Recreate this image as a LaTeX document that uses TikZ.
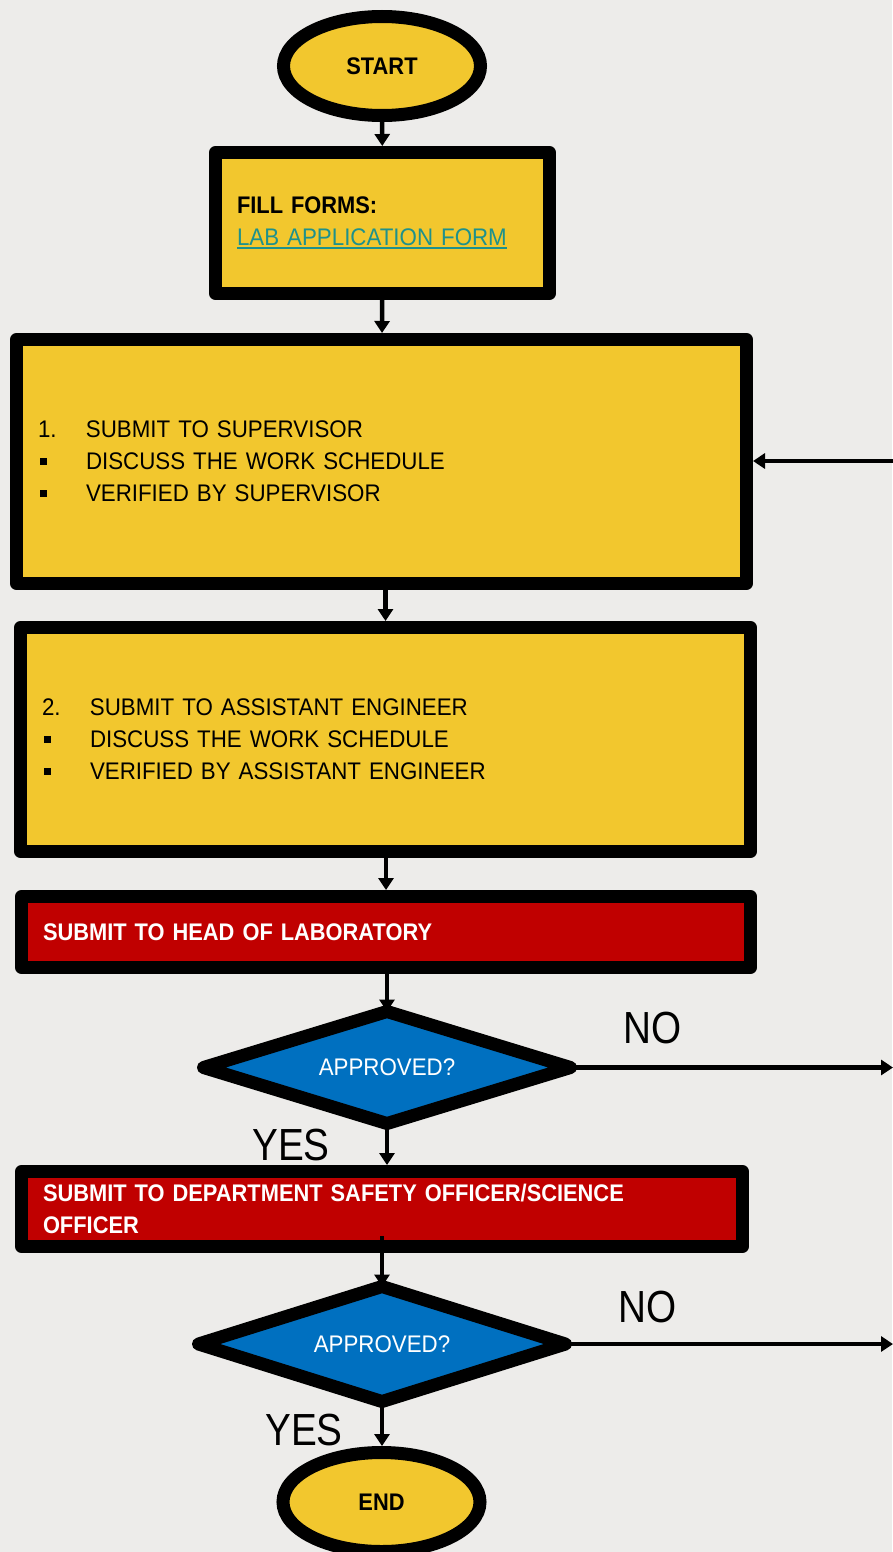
\documentclass[tikz,border=0pt]{standalone}
\usepackage{fontspec}
\setmainfont{Liberation Sans}[FakeStretch=0.93,BoldFeatures={FakeStretch=0.91}]
\newfontfamily\answerfont{Liberation Sans}[FakeStretch=0.86]
\usetikzlibrary{shapes.geometric,arrows.meta}
\definecolor{pagebg}{HTML}{EDECEA}
\definecolor{flowyellow}{HTML}{F2C72E}
\definecolor{flowred}{HTML}{C00000}
\definecolor{flowblue}{HTML}{0070C0}
\definecolor{linkteal}{HTML}{1E918C}
\newcommand{\sqbullet}{\rule[5pt]{7pt}{7pt}}
\newcommand{\itemrow}[2]{\makebox[48pt][l]{#1}#2}
\newcommand{\formlink}[1]{\textcolor{linkteal}{\setbox0\hbox{#1}\rlap{\rule[-3pt]{\wd0}{1.8pt}}\box0}}

\begin{document}
\begin{tikzpicture}[x=1pt, y=-1pt,
  every node/.style={font=\fontsize{24}{32}\selectfont},
  >={Triangle[length=12pt,width=15pt]},
  terminal/.style={ellipse, draw, line width=13pt, fill=flowyellow, inner sep=0pt,
    minimum width=197pt, minimum height=99pt, font=\fontsize{24}{32}\selectfont\bfseries},
  stepbox/.style={rectangle, draw, line width=13pt, line join=round, fill=flowyellow,
    inner xsep=21.5pt, align=left},
  redbox/.style={stepbox, fill=flowred, text=white, font=\fontsize{24}{32}\selectfont\bfseries},
  decision/.style={diamond, draw, line width=13pt, line join=round, fill=flowblue, text=white,
    inner sep=0pt, outer sep=0pt, aspect=3.3, minimum width=367pt, minimum height=112pt},
  answer/.style={font=\fontsize{45}{45}\answerfont},
  flow/.style={->, line width=4.5pt}]
\useasboundingbox (0,0) rectangle (892,1552);
\fill[pagebg] (0,0) rectangle (892,1552);

% main column
\node[terminal] (start) at (382,66) {START};
\node[stepbox, text width=291pt, minimum height=141pt] (forms) at (382.5,223)
  {\textbf{FILL FORMS:}\\\formlink{LAB APPLICATION FORM}};
\node[stepbox, text width=687pt, minimum height=244pt] (supervisor) at (381.5,461.5)
  {\itemrow{1.}{SUBMIT TO SUPERVISOR}\\
   \itemrow{\hspace{2pt}\sqbullet}{DISCUSS THE WORK SCHEDULE}\\
   \itemrow{\hspace{2pt}\sqbullet}{VERIFIED BY SUPERVISOR}};
\node[stepbox, text width=687pt, minimum height=224pt] (engineer) at (385.5,739.5)
  {\itemrow{2.}{SUBMIT TO ASSISTANT ENGINEER}\\
   \itemrow{\hspace{2pt}\sqbullet}{DISCUSS THE WORK SCHEDULE}\\
   \itemrow{\hspace{2pt}\sqbullet}{VERIFIED BY ASSISTANT ENGINEER}};
\node[redbox, text width=686pt, minimum height=71pt] (head) at (386,932)
  {SUBMIT TO HEAD OF LABORATORY};
\node[decision] (check1) at (387,1067.5) {APPROVED?};
\node[redbox, text width=678pt, minimum height=75pt] (safety) at (382,1209)
  {SUBMIT TO DEPARTMENT SAFETY OFFICER/SCIENCE\\OFFICER};
\node[decision, minimum height=115pt] (check2) at (382,1344) {APPROVED?};
\node[terminal] (end) at (381.5,1502) {END};

% answers
\node[answer] (no1) at (653,1028) {NO};
\node[answer] (yes1) at (291,1145) {YES};
\node[answer] (no2) at (648,1307) {NO};
\node[answer] (yes2) at (304,1430) {YES};

\coordinate (back) at (893,461);
\coordinate (reject1) at (893,1067.5);
\coordinate (reject2) at (893,1344);

% connectors
\draw[flow] (start) -- (forms);
\draw[flow] (forms) -- (supervisor);
\draw[flow] (supervisor.south -| engineer) -- (engineer.north);
\draw[flow] (engineer.south -| head) -- (head.north);
\draw[flow] (head.south -| check1) -- (check1.north);
\draw[flow] (check1.south) -- (check1.south |- safety.north);
\draw[flow] ([yshift=17pt]safety.south) -- (check2.north);
\draw[flow] (check2.south) -- (check2.south |- end.north);
\draw[flow] (back) -- (supervisor.east |- back);
\draw[flow] (check1.east) -- (reject1);
\draw[flow] (check2.east) -- (reject2);
\end{tikzpicture}
\end{document}
